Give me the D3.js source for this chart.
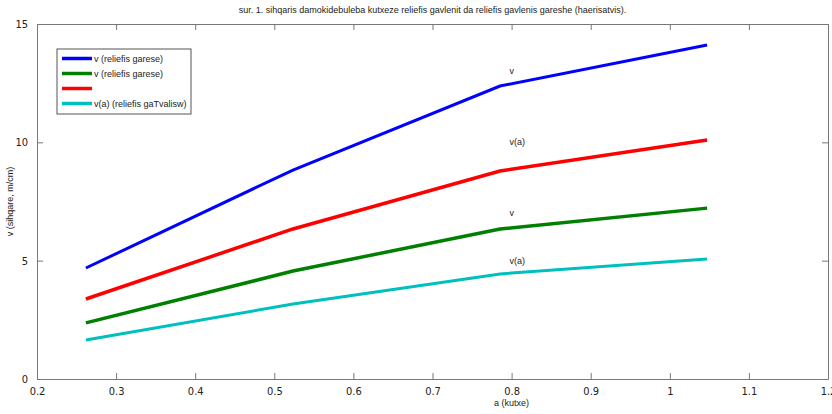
<!DOCTYPE html>
<html>
<head>
<meta charset="utf-8">
<script src="https://cdn.jsdelivr.net/npm/d3@7"></script>
<style>
  body { margin: 0; background: #fff; }
  text { font-family: "Liberation Sans", Arial, sans-serif; fill: #222; }
  .tick text { font-family: "Liberation Sans Narrow", "DejaVu Sans Condensed", sans-serif; font-size: 11px; }
</style>
</head>
<body>
<div id="chart"></div>
<script>
const width = 832;
const height = 414;
const margin = { left: 37, right: 4, top: 24, bottom: 35 };
const inner_w = width - margin.left - margin.right;
const inner_h = height - margin.top - margin.bottom;

// data
const a_values = [0.2618, 0.5236, 0.7854, 1.0472];
const v_blue = [4.69, 8.83, 12.38, 14.11];
const v_red = [3.38, 6.34, 8.79, 10.1];
const v_green = [2.37, 4.56, 6.34, 7.22];
const v_cyan = [1.65, 3.17, 4.44, 5.07];
const series_names = ['v (reliefis garese)', 'v (reliefis garese)', '', 'v(a) (reliefis gaTvalisw)'];
const series_colors = ['#0000ff', '#008000', '#ff0000', '#00bfbf'];
const notes = [
  { text: 'v', a: 0.8, v: 13 },
  { text: 'v(a)', a: 0.8, v: 10 },
  { text: 'v', a: 0.8, v: 7 },
  { text: 'v(a)', a: 0.8, v: 5 },
];
const x_ticks = [0.2, 0.3, 0.4, 0.5, 0.6, 0.7, 0.8, 0.9, 1, 1.1, 1.2];
const y_ticks = [0, 5, 10, 15];

const series = [v_blue, v_green, v_red, v_cyan];
const draw_order = [0, 2, 1, 3];
const widths = [3, 3.5, 3.5, 3];

const x_scale = d3.scaleLinear().domain([0.2, 1.2]).range([0, inner_w]);
const y_scale = d3.scaleLinear().domain([0, 15]).range([inner_h, 0]);

const root = d3.select('#chart').append('svg')
  .attr('width', width)
  .attr('height', height);

root.append('text')
  .attr('x', margin.left + inner_w / 2)
  .attr('y', 13)
  .attr('text-anchor', 'middle')
  .style('font-size', '9px')
  .text('sur. 1. sihqaris damokidebuleba kutxeze reliefis gavlenit da reliefis gavlenis gareshe (haerisatvis).');

const svg = root.append('g')
  .attr('transform', 'translate(' + margin.left + ',' + margin.top + ')');

// axes, MATLAB box style with inward ticks
const fmt = d => String(d);
svg.append('g')
  .attr('transform', 'translate(0,' + inner_h + ')')
  .call(d3.axisBottom(x_scale).tickValues(x_ticks).tickFormat(fmt).tickSizeInner(-6).tickSizeOuter(0).tickPadding(10))
  .call(g => g.selectAll('text').attr('dy', '0.5em'));
svg.append('g')
  .call(d3.axisTop(x_scale).tickValues(x_ticks).tickFormat('').tickSizeInner(-6).tickSizeOuter(0));
svg.append('g')
  .call(d3.axisLeft(y_scale).tickValues(y_ticks).tickFormat(fmt).tickSizeInner(-6).tickSizeOuter(0).tickPadding(9));
svg.append('g')
  .attr('transform', 'translate(' + inner_w + ',0)')
  .call(d3.axisRight(y_scale).tickValues(y_ticks).tickFormat('').tickSizeInner(-6).tickSizeOuter(0));
svg.selectAll('.domain, .tick line').attr('stroke', '#777');

// lines
const line = d3.line()
  .x((d, i) => x_scale(a_values[i]))
  .y(d => y_scale(d));
draw_order.forEach(k => {
  svg.append('path')
    .datum(series[k])
    .attr('fill', 'none')
    .attr('stroke', series_colors[k])
    .attr('stroke-width', widths[k])
    .attr('d', line);
});

// annotations
svg.selectAll('.note')
  .data(notes)
  .join('text')
    .attr('class', 'note')
    .attr('x', d => x_scale(d.a) - 2)
    .attr('y', d => y_scale(d.v))
    .attr('dy', '0.35em')
    .style('font-size', '9px')
    .text(d => d.text);

// legend
const legend = svg.append('g').attr('transform', 'translate(20,25)');
legend.append('rect')
  .attr('width', 134)
  .attr('height', 65)
  .attr('fill', '#fff')
  .attr('stroke', '#555');
series_names.forEach((name, i) => {
  const y = 9.5 + i * 15;
  legend.append('line')
    .attr('x1', 5).attr('x2', 35)
    .attr('y1', y).attr('y2', y)
    .attr('stroke', series_colors[i])
    .attr('stroke-width', 3.5);
  legend.append('text')
    .attr('x', 37)
    .attr('y', y)
    .attr('dy', '0.35em')
    .style('font-size', '9px')
    .text(name);
});

// axis titles
root.append('text')
  .attr('x', margin.left + x_scale(0.8))
  .attr('y', 406)
  .attr('text-anchor', 'middle')
  .style('font-size', '9px')
  .text('a (kutxe)');
root.append('text')
  .attr('transform', 'translate(13,' + (margin.top + y_scale(7.5)) + ') rotate(-90)')
  .attr('text-anchor', 'middle')
  .style('font-size', '9px')
  .text('v (sihqare, m/cm)');
</script>
</body>
</html>
